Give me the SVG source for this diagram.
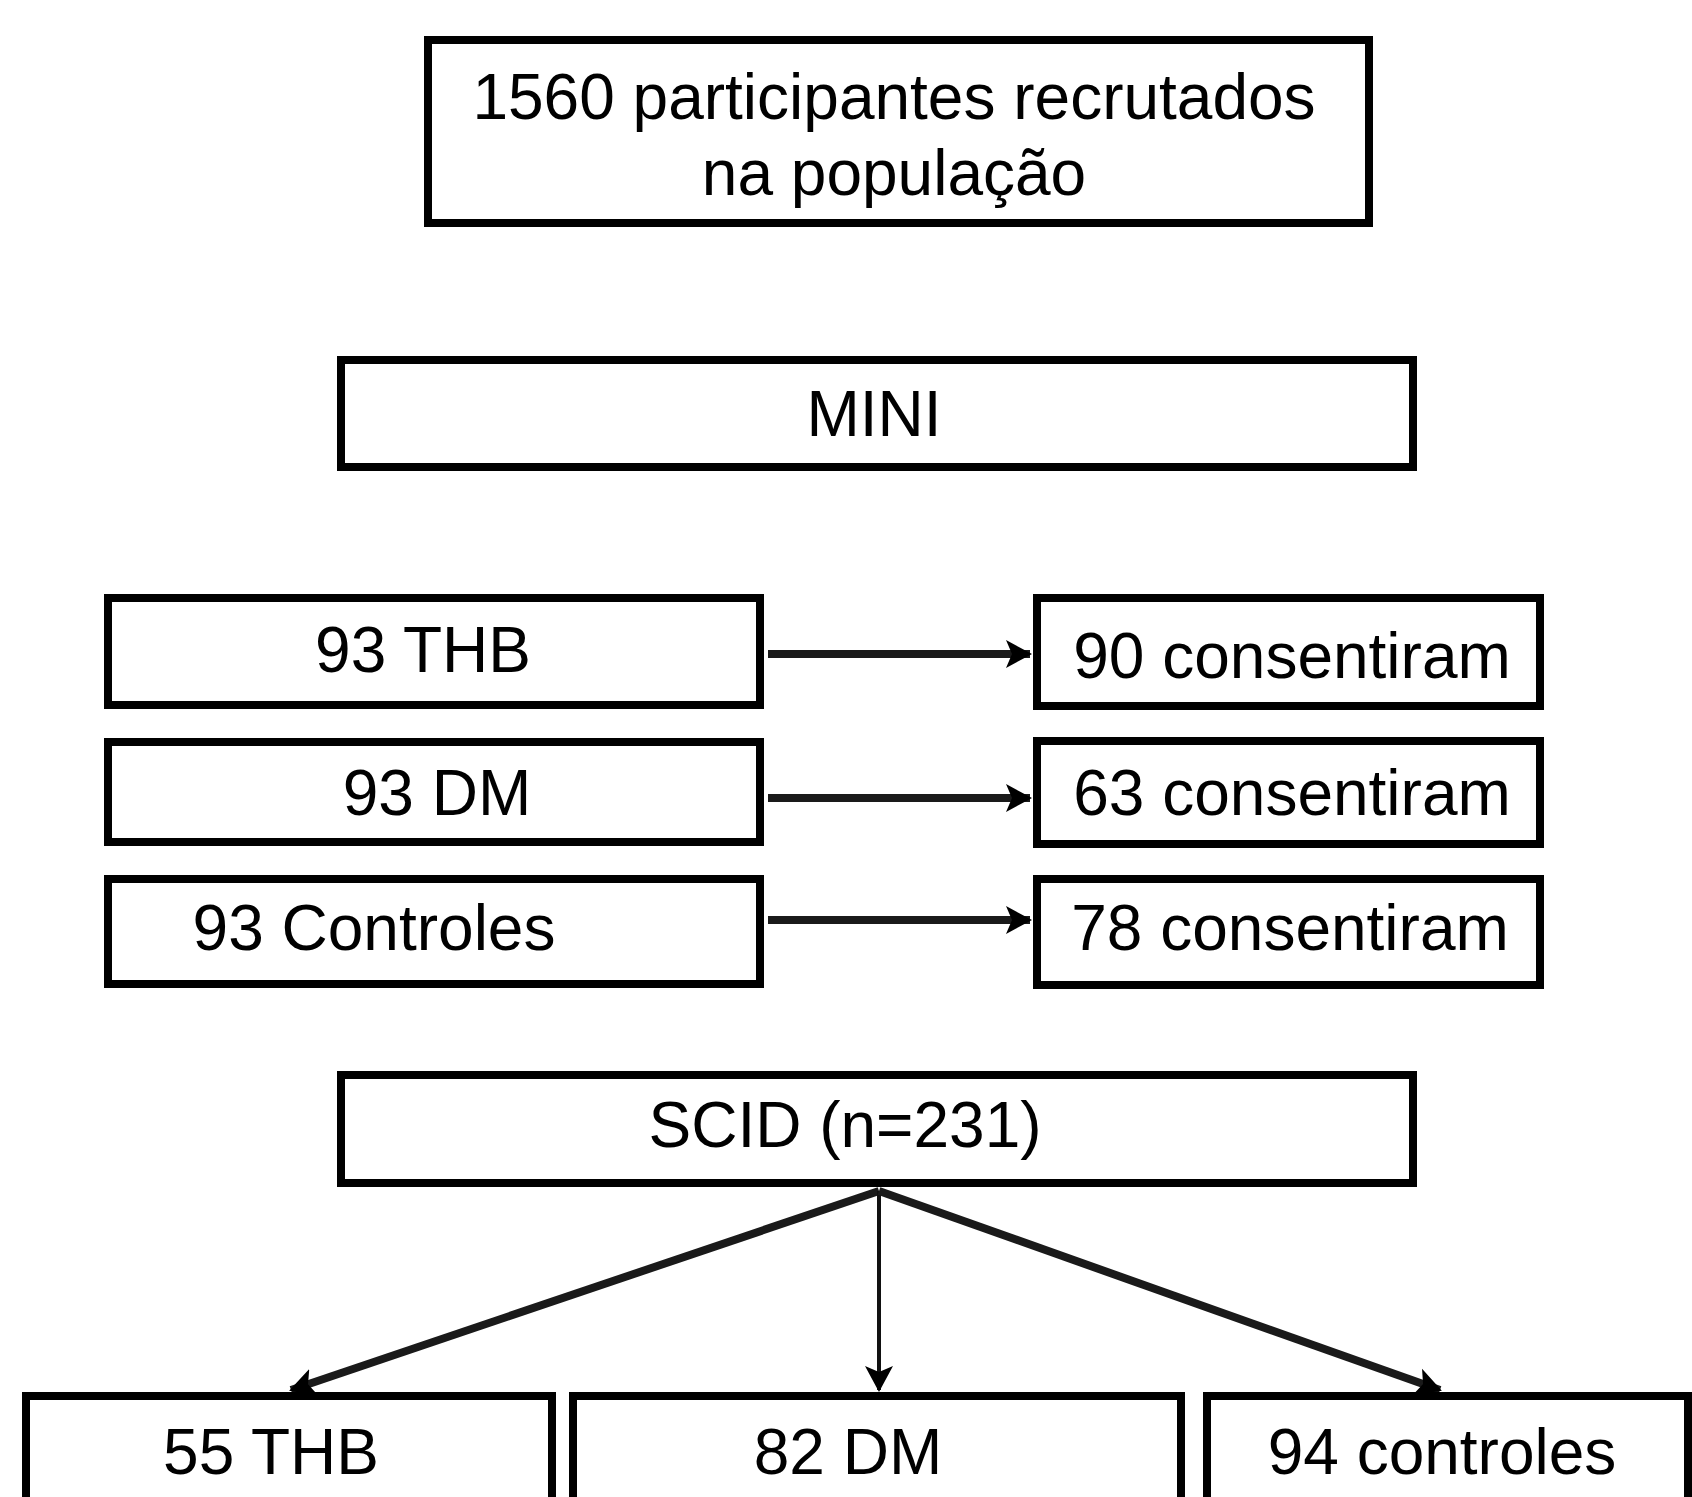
<svg xmlns="http://www.w3.org/2000/svg" width="1692" height="1497" viewBox="0 0 1692 1497">
<style>
.box{fill:#fff;stroke:#000;stroke-width:8}
.t{font-family:"Liberation Sans",Arial,sans-serif;font-size:64px;fill:#000;text-anchor:middle}
.arr{stroke:#1a1a1a;stroke-width:8;fill:none}
.thin{stroke:#111;stroke-width:4;fill:none}
</style>
<defs>
<marker id="ah2" markerWidth="28" markerHeight="30" refX="24" refY="15" orient="auto" markerUnits="userSpaceOnUse" viewBox="0 0 28 30">
<path d="M0,1 L26,15 L0,29 L6,15 Z" fill="#000"/>
</marker>
</defs>
<rect width="1692" height="1497" fill="#fff"/>
<g id="connectors">
<line class="arr" x1="768" y1="654" x2="1030" y2="654" marker-end="url(#ah2)"/>
<line class="arr" x1="768" y1="798" x2="1030" y2="798" marker-end="url(#ah2)"/>
<line class="arr" x1="768" y1="920" x2="1030" y2="920" marker-end="url(#ah2)"/>
<line class="arr" x1="879" y1="1191" x2="291" y2="1390" marker-end="url(#ah2)"/>
<line class="thin" x1="879" y1="1191" x2="879" y2="1390" marker-end="url(#ah2)"/>
<line class="arr" x1="879" y1="1191" x2="1440" y2="1390" marker-end="url(#ah2)"/>
</g>
<g id="n_top"><rect class="box" x="428" y="40" width="941" height="183"/>
<text class="t" x="894" y="119">1560 participantes recrutados</text>
<text class="t" x="894" y="195">na população</text></g>
<g id="n_mini"><rect class="box" x="341" y="360" width="1072" height="107"/><text class="t" x="874" y="436">MINI</text></g>
<g id="n_thb"><rect class="box" x="108" y="598" width="652" height="107"/><text class="t" x="423" y="672">93 THB</text></g>
<g id="n_dm"><rect class="box" x="108" y="742" width="652" height="100"/><text class="t" x="437" y="815">93 DM</text></g>
<g id="n_ctrl"><rect class="box" x="108" y="879" width="652" height="105"/><text class="t" x="374" y="950">93 Controles</text></g>
<g id="n_c90"><rect class="box" x="1037" y="598" width="503" height="108"/><text class="t" x="1292" y="678">90 consentiram</text></g>
<g id="n_c63"><rect class="box" x="1037" y="741" width="503" height="103"/><text class="t" x="1292" y="815">63 consentiram</text></g>
<g id="n_c78"><rect class="box" x="1037" y="879" width="503" height="106"/><text class="t" x="1290" y="950">78 consentiram</text></g>
<g id="n_scid"><rect class="box" x="341" y="1075" width="1072" height="108"/><text class="t" x="845" y="1147">SCID (n=231)</text></g>
<g id="n_55"><rect class="box" x="26" y="1396" width="526" height="120"/><text class="t" x="271" y="1474">55 THB</text></g>
<g id="n_82"><rect class="box" x="573" y="1396" width="608" height="120"/><text class="t" x="848" y="1474">82 DM</text></g>
<g id="n_94"><rect class="box" x="1207" y="1396" width="481" height="120"/><text class="t" x="1442" y="1474">94 controles</text></g>
</svg>
